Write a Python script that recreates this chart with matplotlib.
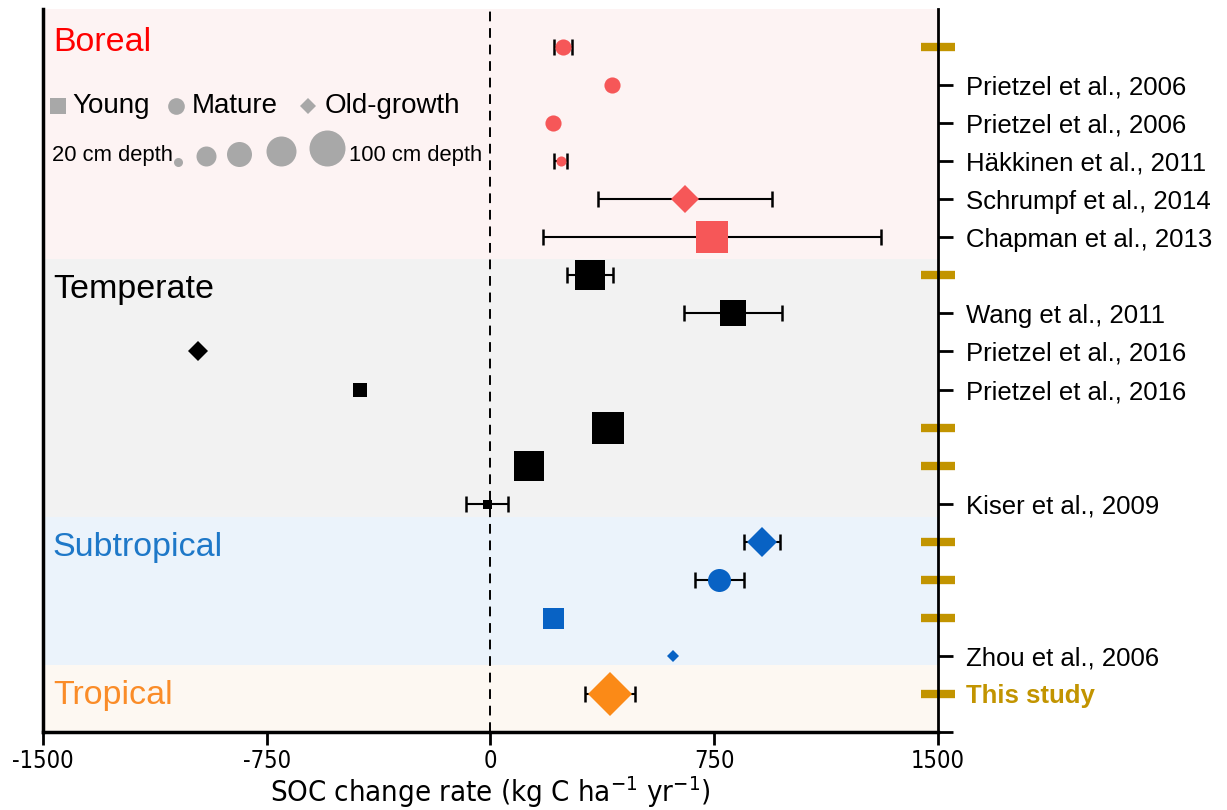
import numpy as np
import matplotlib.pyplot as plt
from matplotlib import font_manager

plt.rcParams['font.family'] = ['Liberation Sans', 'DejaVu Sans']

# one row per study / stand, top to bottom
biome = ['Boreal'] * 6 + ['Temperate'] * 7 + ['Subtropical'] * 4 + ['Tropical']
stand = ['Mature', 'Mature', 'Mature', 'Mature', 'Old-growth', 'Young',
         'Young', 'Young', 'Old-growth', 'Young', 'Young', 'Young', 'Young',
         'Old-growth', 'Mature', 'Young', 'Old-growth',
         'Old-growth']
rate = [243, 407, 210, 236, 652, 742,
        334, 813, -981, -437, 394, 129, -12,
        910, 766, 209, 612,
        401]
err = [30, 0, 0, 22, 292, 567,
       77, 165, 0, 0, 0, 0, 69,
       60, 82, 0, 0,
       85]
depth = [33, 33, 33, 22, 42, 86,
         83, 62, 29, 29, 86, 83, 20,
         45, 52, 44, 20,
         84]
refs = ['', 'Prietzel et al., 2006', 'Prietzel et al., 2006', 'Häkkinen et al., 2011',
        'Schrumpf et al., 2014', 'Chapman et al., 2013',
        '', 'Wang et al., 2011', 'Prietzel et al., 2016', 'Prietzel et al., 2016',
        '', '', 'Kiser et al., 2009',
        '', '', '', 'Zhou et al., 2006',
        'This study']
highlight = [1, 7, 11, 12, 14, 15, 16, 18]  # rows marked in gold on the right axis

biome_names = ['Boreal', 'Temperate', 'Subtropical', 'Tropical']
biome_edges = [0, 6.57, 13.34, 17.24, 19]
legend_depths = [20, 40, 60, 80, 100]

# styles
marker_of = {'Young': 's', 'Mature': 'o', 'Old-growth': 'D'}
mark_col = {'Boreal': '#F65758', 'Temperate': '#000000',
            'Subtropical': '#0862C4', 'Tropical': '#FB8A17'}
title_col = {'Boreal': '#FF0000', 'Temperate': '#000000',
             'Subtropical': '#1E78C8', 'Tropical': '#FA8C28'}
bg_col = {'Boreal': '#FDF3F3', 'Temperate': '#F2F2F2',
          'Subtropical': '#EBF3FB', 'Tropical': '#FDF8F2'}
gold = '#C29400'
grey = '#A8A8A8'

# condensed face for the x axis, if one is installed
narrow = dict(family='Liberation Sans')
fonts = font_manager.fontManager.ttflist
if any(f.name == 'Liberation Sans Narrow' for f in fonts):
    narrow = dict(family='Liberation Sans Narrow')
elif any(f.name == 'DejaVu Sans' and f.stretch == 'condensed' for f in fonts):
    narrow = dict(family='DejaVu Sans', stretch='condensed')


def depth_to_ms(d):
    # marker size in points from sampling depth
    return np.interp(d, [20, 40, 60, 80, 100], [9, 20, 25, 30, 36]) * 0.72


fig = plt.figure(figsize=(12.27, 8.1), dpi=100)
ax = fig.add_axes([0.035, 0.0963, 0.7295, 0.8926])
ax.set_xlim(-1500, 1500)
ax.set_ylim(19, 0)

for i, name in enumerate(biome_names):
    ax.axhspan(biome_edges[i], biome_edges[i + 1], color=bg_col[name], lw=0, zorder=0)

ax.axvline(0, color='k', ls=(0, (5, 3.5)), lw=1.4, zorder=1)

rows = np.arange(1, len(rate) + 1)
for y, x, e, s, b, d in zip(rows, rate, err, stand, biome, depth):
    if e > 0:
        ax.errorbar(x, y, xerr=e, fmt='none', ecolor='k', elinewidth=1.5,
                    capsize=5.5, capthick=1.8, zorder=2)
    ax.plot(x, y, marker=marker_of[s], ms=depth_to_ms(d), color=mark_col[b],
            mec=mark_col[b], mew=0, ls='none', zorder=3)

# biome titles
title_y = [0.87, 7.36, 14.14, 18.05]
for name, ty in zip(biome_names, title_y):
    ax.text(-1467, ty, name, color=title_col[name], fontsize=24.5, va='center', ha='left')

# legend for stand age
ly = 2.55
ax.plot(-1451, ly, marker='s', ms=12, color=grey, mew=0)
ax.text(-1400, ly, 'Young', fontsize=20, va='center')
ax.plot(-1054, ly, marker='o', ms=12, color=grey, mew=0)
ax.text(-1000, ly, 'Mature', fontsize=20, va='center')
ax.plot(-612, ly, marker='D', ms=8.6, color=grey, mew=0)
ax.text(-557, ly, 'Old-growth', fontsize=20, va='center')

# legend for depth
dy = 3.84
ax.text(-1470, dy, '20 cm depth', fontsize=15.8, va='center')
ax.text(-474, dy, '100 cm depth', fontsize=15.8, va='center')
for lx, d in zip([-1048, -954, -843, -702, -548], legend_depths):
    ms = depth_to_ms(d)
    ax.plot(lx, 4.13 - ms / 0.72 / 2 / 38.05, marker='o', ms=ms, color=grey, mew=0)

# axes
ax.spines['top'].set_visible(False)
ax.spines['left'].set_linewidth(2.5)
ax.spines['bottom'].set_linewidth(2.5)
ax.spines['right'].set_linewidth(2)

ax.set_xticks([-1500, -750, 0, 750, 1500])
ax.set_xticklabels(['-1500', '-750', '0', '750', '1500'], fontsize=17, **narrow)
ax.tick_params(axis='x', length=9, width=2, pad=3)
ax.set_xlabel('SOC change rate (kg C ha$^{\\mathregular{-1}}$ yr$^{\\mathregular{-1}}$)',
              fontsize=21, va='baseline', **narrow)
ax.xaxis.set_label_coords(0.5, -0.0975)

ax.yaxis.tick_right()
ref_rows = [r for r in rows if refs[r - 1] and r not in highlight]
ax.set_yticks(ref_rows + [19], [refs[r - 1] for r in ref_rows] + [''])
ax.tick_params(axis='y', which='major', length=11, width=2, pad=9, labelsize=18.5)
ax.set_yticks(highlight, [refs[r - 1] for r in highlight], minor=True)
ax.tick_params(axis='y', which='minor', direction='inout', length=25, width=6,
               color=gold, pad=7.7, labelsize=18.5, labelcolor=gold)
for lbl in ax.get_yticklabels(minor=True):
    lbl.set_fontweight('bold')

fig.savefig('out.png', dpi=100)
